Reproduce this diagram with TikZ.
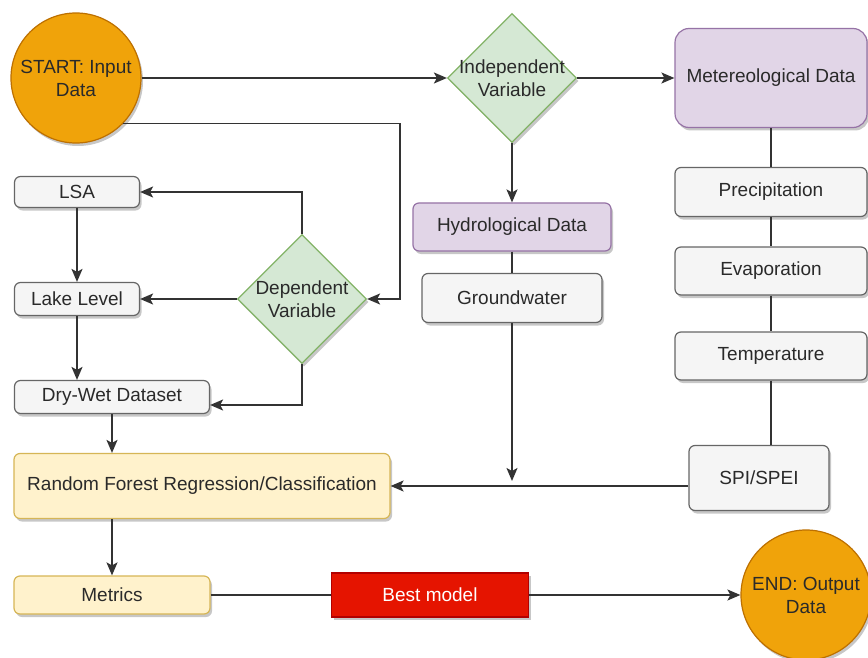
\documentclass[tikz,border=0pt]{standalone}
\usepackage{fontspec}
\setmainfont{Liberation Sans}
\usetikzlibrary{shapes.geometric,arrows.meta,shadows}
\definecolor{orangeF}{HTML}{F0A30A}
\definecolor{orangeD}{HTML}{BD7000}
\definecolor{greenF}{HTML}{D5E8D4}
\definecolor{greenD}{HTML}{82B366}
\definecolor{purpF}{HTML}{E1D5E7}
\definecolor{purpD}{HTML}{9673A6}
\definecolor{greyF}{HTML}{F5F5F5}
\definecolor{greyD}{HTML}{666666}
\definecolor{yelF}{HTML}{FFF2CC}
\definecolor{yelD}{HTML}{D6B656}
\definecolor{redF}{HTML}{E51400}
\definecolor{redD}{HTML}{B20000}
\definecolor{txt}{HTML}{2A2A2A}
\tikzset{
  every node/.style={font=\fontsize{19}{23}\selectfont, align=center, text=txt},
  shad/.style={drop shadow={shadow xshift=2pt,shadow yshift=-3pt,fill=black,opacity=0.22}},
  gbox/.style={shad,draw=greyD,fill=greyF,line width=1.2pt,rounded corners=6pt,inner sep=0pt},
  pbox/.style={shad,draw=purpD,fill=purpF,line width=1.2pt,rounded corners=6pt,inner sep=0pt},
  ybox/.style={shad,draw=yelD,fill=yelF,line width=1.2pt,rounded corners=6pt,inner sep=0pt},
  dia/.style={shad,diamond,aspect=1,draw=greenD,fill=greenF,line width=1.2pt,minimum width=129pt,minimum height=129pt,inner sep=0pt},
  circ/.style={shad,circle,draw=orangeD,fill=orangeF,line width=1.2pt,minimum size=130pt,inner sep=0pt},
  conn/.style={draw=black!80,line width=1.6pt},
  arr/.style={conn,-{Stealth[length=13pt,width=11pt,inset=3pt]}},
}
\begin{document}
\begin{tikzpicture}[x=1pt,y=-1pt]
\useasboundingbox (0,0) rectangle (868,658);
\fill[white] (0,0) rectangle (868,658);
% nodes
\node[circ,label={[text=txt]center:START: Input\\Data}] (start) at (76,78) {};
\node[dia,label={[text=txt]center:Independent\\Variable}] (ind) at (512,78) {};
\node[pbox,minimum width=192pt,minimum height=99pt,rounded corners=14pt] (met) at (771,78) {Metereological Data};
\node[gbox,minimum width=192pt,minimum height=49pt] (prec) at (771,192) {Precipitation};
\node[gbox,minimum width=192pt,minimum height=48pt] (evap) at (771,271) {Evaporation};
\node[gbox,minimum width=192pt,minimum height=48pt] (temp) at (771,356) {Temperature};
\node[gbox,minimum width=140pt,minimum height=65pt] (spi) at (759,478) {SPI/SPEI};
\node[pbox,minimum width=198pt,minimum height=48pt] (hydro) at (512,227) {Hydrological Data};
\node[gbox,minimum width=180pt,minimum height=49pt] (gw) at (512,298) {Groundwater};
\node[gbox,minimum width=125pt,minimum height=31pt] (lsa) at (77,192) {LSA};
\node[gbox,minimum width=125pt,minimum height=33pt] (lake) at (77,299) {Lake Level};
\node[gbox,minimum width=195pt,minimum height=33pt] (dry) at (112,397) {Dry-Wet Dataset};
\node[dia,label={[text=txt]center:Dependent\\Variable}] (dep) at (302,299) {};
\node[ybox,minimum width=376pt,minimum height=65pt] (rf) at (202,486) {Random Forest Regression/Classification};
\node[ybox,minimum width=196pt,minimum height=38pt] (metr) at (112,595) {Metrics};
\node[shad,draw=redD,fill=redF,line width=1.2pt,minimum width=197pt,minimum height=44pt,text=white,inner sep=0pt] (best) at (430,595) {Best model};
\node[circ,label={[text=txt]center:END: Output\\Data}] (end) at (806,595) {};
% coordinates
\coordinate (jr) at (400,299);
\coordinate (gwend) at (512,481);
% connectors
\draw[arr] (start.east) -- (ind.west);
\draw[arr] (start.-44) -| (jr) -- (dep.east);
\draw[arr] (ind.east) -- (met.west);
\draw[arr] (ind.south) -- (hydro.north);
\draw[conn] (hydro.south) -- (gw.north);
\draw[arr] (gw.south) -- (gwend);
\draw[conn] (met.south) -- (prec.north);
\draw[conn] (prec.south) -- (evap.north);
\draw[conn] (evap.south) -- (temp.north);
\draw[conn] (temp.south) -- (temp.south |- spi.north);
\draw[arr] (spi.west |- rf.east) -- (rf.east);
\draw[arr] (dep.north) |- (lsa.east);
\draw[arr] (dep.west) -- (lake.east);
\draw[arr] (dep.south) |- ([yshift=-8pt]dry.east);
\draw[arr] (lsa.south) -- (lake.north);
\draw[arr] (lake.south) -- (lake.south |- dry.north);
\draw[arr] (dry.south) -- (dry.south |- rf.north);
\draw[arr] (metr.north |- rf.south) -- (metr.north);
\draw[conn] (metr.east) -- (best.west);
\draw[arr] (best.east) -- (end.west);
\end{tikzpicture}
\end{document}
